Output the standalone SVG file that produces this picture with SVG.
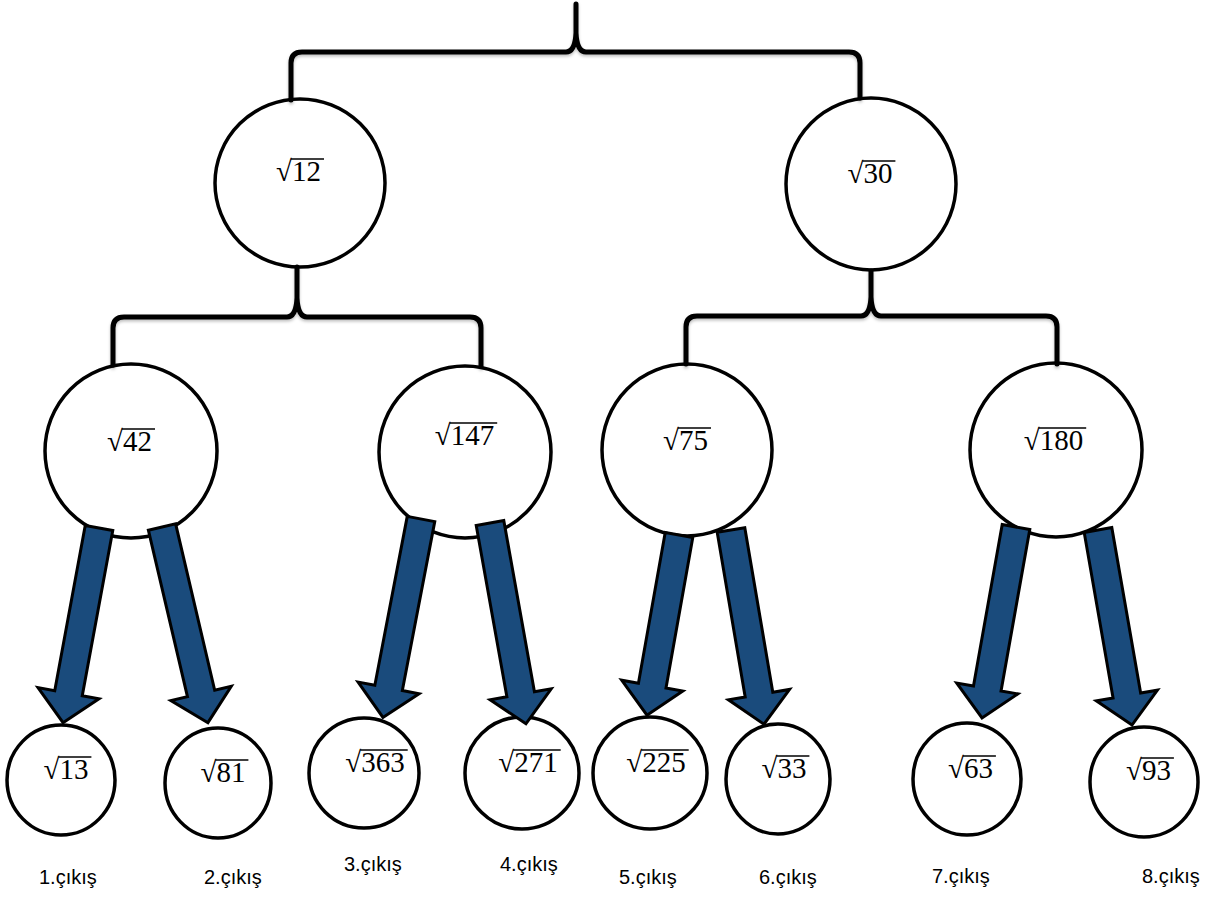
<svg xmlns="http://www.w3.org/2000/svg" width="1212" height="899" viewBox="0 0 1212 899">
<style>
.node ellipse{fill:#fff;stroke:#000;stroke-width:3.5}
.rt{font-family:"Liberation Serif","Times New Roman",serif;font-size:29px;fill:#000}
.ov{stroke:#000;stroke-width:1.4}
.brace{fill:none;stroke:#000;stroke-width:5;stroke-linecap:round;stroke-linejoin:round}
.arrow{fill:#1A4B7C;stroke:#000;stroke-width:3;stroke-linejoin:miter}
.lbl{font-family:"Liberation Sans",Arial,sans-serif;font-size:20px;fill:#000}
</style>
<defs>
<filter id="sh" x="-5%" y="-20%" width="110%" height="150%">
<feDropShadow dx="0" dy="2" stdDeviation="1.5" flood-color="#000" flood-opacity="0.25"/>
</filter>
</defs>

<g id="n12" class="node"><ellipse cx="300" cy="183" rx="85" ry="84"/><text class="rt" x="276" y="181">√12</text><line class="ov" x1="291" y1="159" x2="324" y2="159"/></g>
<g id="n30" class="node"><ellipse cx="871" cy="184" rx="85" ry="86"/><text class="rt" x="847.5" y="183">√30</text><line class="ov" x1="862.5" y1="161" x2="895.4" y2="161"/></g>

<g id="n42" class="node"><ellipse cx="131" cy="451" rx="86" ry="87"/><text class="rt" x="107" y="451">√42</text><line class="ov" x1="122" y1="429" x2="155" y2="429"/></g>
<g id="n147" class="node"><ellipse cx="465" cy="452" rx="86" ry="86"/><text class="rt" x="434.8" y="445">√147</text><line class="ov" x1="449.8" y1="423" x2="497.2" y2="423"/></g>
<g id="n75" class="node"><ellipse cx="687" cy="450" rx="85" ry="86"/><text class="rt" x="663" y="450">√75</text><line class="ov" x1="678" y1="428" x2="711" y2="428"/></g>
<g id="n180" class="node"><ellipse cx="1056" cy="450" rx="86" ry="87"/><text class="rt" x="1023.8" y="450">√180</text><line class="ov" x1="1038.8" y1="428" x2="1086.2" y2="428"/></g>

<g id="n13" class="node"><ellipse cx="61" cy="780" rx="54" ry="55"/><text class="rt" x="43.5" y="779">√13</text><line class="ov" x1="58.5" y1="757" x2="91.4" y2="757"/></g>
<g id="n81" class="node"><ellipse cx="218" cy="783" rx="53" ry="55"/><text class="rt" x="200.5" y="782">√81</text><line class="ov" x1="215.5" y1="760" x2="248.4" y2="760"/></g>
<g id="n363" class="node"><ellipse cx="364" cy="773" rx="55" ry="55"/><text class="rt" x="345.3" y="772">√363</text><line class="ov" x1="360.3" y1="750" x2="407.7" y2="750"/></g>
<g id="n271" class="node"><ellipse cx="522" cy="773" rx="57" ry="56"/><text class="rt" x="498.3" y="772">√271</text><line class="ov" x1="513.3" y1="750" x2="560.7" y2="750"/></g>
<g id="n225" class="node"><ellipse cx="650" cy="773" rx="57" ry="56"/><text class="rt" x="626.3" y="772">√225</text><line class="ov" x1="641.3" y1="750" x2="688.7" y2="750"/></g>
<g id="n33" class="node"><ellipse cx="778" cy="779" rx="52" ry="55"/><text class="rt" x="761.5" y="778">√33</text><line class="ov" x1="776.5" y1="756" x2="809.4" y2="756"/></g>
<g id="n63" class="node"><ellipse cx="967" cy="779" rx="54" ry="56"/><text class="rt" x="948" y="778">√63</text><line class="ov" x1="963" y1="756" x2="995.9" y2="756"/></g>
<g id="n93" class="node"><ellipse cx="1144" cy="782" rx="54" ry="55"/><text class="rt" x="1126" y="780">√93</text><line class="ov" x1="1141" y1="758" x2="1173.9" y2="758"/></g>

<g id="connectors">
<path class="brace" filter="url(#sh)" d="M291,100 V63 Q291,52 302,52 H566 Q575,52 576,33 V4 M576,33 Q577,52 586,52 H849 Q860,52 860,63 V98"/>
<path class="brace" filter="url(#sh)" d="M113,365 V328 Q113,317 124,317 H287 Q296,317 297,298 V267 M297,298 Q298,317 307,317 H470 Q481,317 481,328 V366"/>
<path class="brace" filter="url(#sh)" d="M686,364 V327 Q686,316 697,316 H861 Q870,316 871,297 V271 M871,297 Q872,316 881,316 H1046 Q1057,316 1057,327 V364"/>

<polygon class="arrow" transform="translate(99,528) rotate(10.46)" points="-14,0 14,0 14,168 31,168 0,198 -31,168 -14,168"/>
<polygon class="arrow" transform="translate(162,527) rotate(-13.21)" points="-14,0 14,0 14,171 31,171 0,201 -31,171 -14,171"/>
<polygon class="arrow" transform="translate(421,519) rotate(10.86)" points="-14,0 14,0 14,172 31,172 0,202 -31,172 -14,172"/>
<polygon class="arrow" transform="translate(490,523) rotate(-10.15)" points="-14,0 14,0 14,174 31,174 0,204 -31,174 -14,174"/>
<polygon class="arrow" transform="translate(679,535) rotate(10.08)" points="-14,0 14,0 14,153 31,153 0,183 -31,153 -14,153"/>
<polygon class="arrow" transform="translate(731,530) rotate(-9.65)" points="-14,0 14,0 14,167 31,167 0,197 -31,167 -14,167"/>
<polygon class="arrow" transform="translate(1016,527) rotate(10.09)" points="-14,0 14,0 14,164 31,164 0,194 -31,164 -14,164"/>
<polygon class="arrow" transform="translate(1098,530) rotate(-9.89)" points="-14,0 14,0 14,168 31,168 0,198 -31,168 -14,168"/>
</g>

<g id="labels">
<text class="lbl" x="39" y="884">1.çıkış</text>
<text class="lbl" x="204" y="884">2.çıkış</text>
<text class="lbl" x="344" y="871">3.çıkış</text>
<text class="lbl" x="500" y="871">4.çıkış</text>
<text class="lbl" x="619" y="884">5.çıkış</text>
<text class="lbl" x="759" y="884">6.çıkış</text>
<text class="lbl" x="932" y="883">7.çıkış</text>
<text class="lbl" x="1142" y="883">8.çıkış</text>
</g>
</svg>
